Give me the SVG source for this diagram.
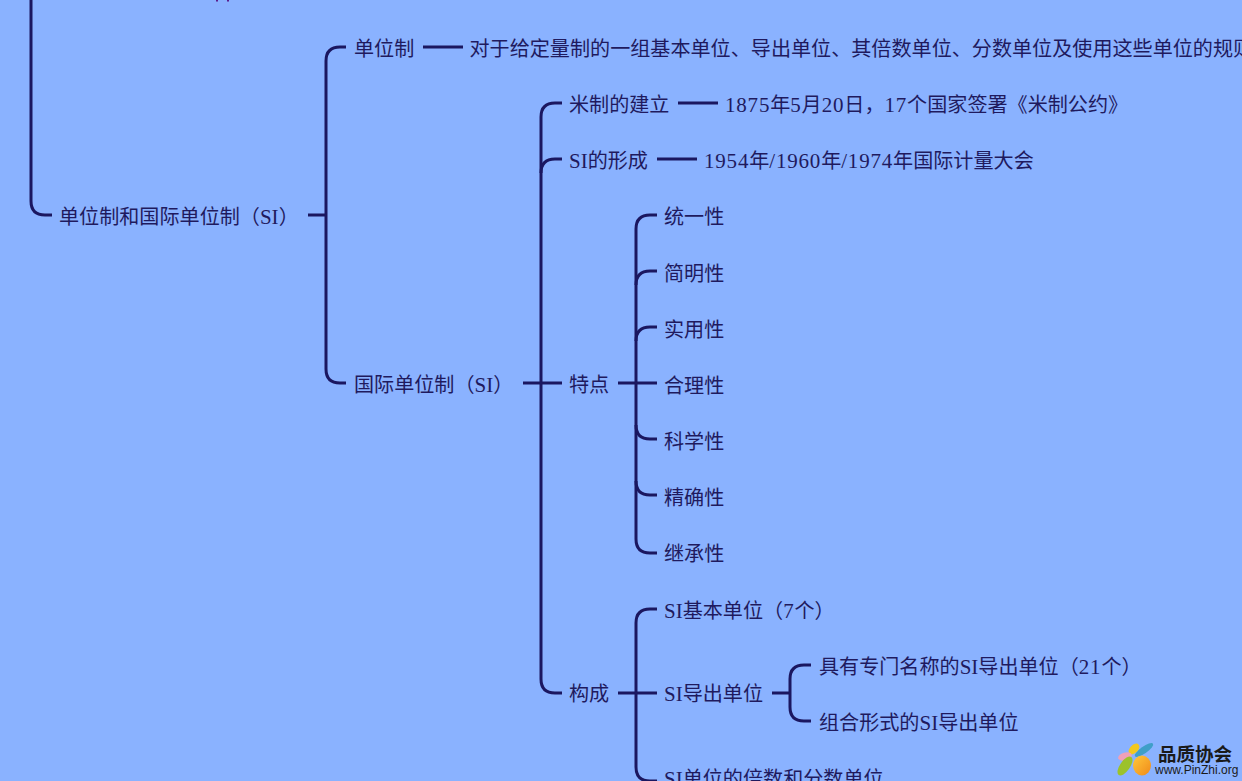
<svg xmlns="http://www.w3.org/2000/svg" width="1242" height="781" viewBox="0 0 1242 781">
<style>
text{font-family:"Liberation Serif","Noto Sans CJK SC",serif;font-size:20.1px;fill:#1f1a5e}
.d{font-size:21px;letter-spacing:.8px}
.s{font-size:21px}
.c{fill:none;stroke:#1b1760;stroke-width:3;stroke-linecap:butt}
</style>
<defs>
<linearGradient id="g1" x1="0" y1="0" x2="1" y2="1"><stop offset="0" stop-color="#ffc83a"/><stop offset="1" stop-color="#f08a1a"/></linearGradient>
</defs>
<rect width="1242" height="781" fill="#8ab2ff"/>
<g id="connectors">
<path class="c" d="M31 0V201Q31 215 45 215H52"/>
<path class="c" d="M308 215H326"/>
<path class="c" d="M346 47H340Q326 47 326 61V369Q326 383 340 383H346"/>
<path class="c" d="M423 47H463"/>
<path class="c" d="M523 383H541"/>
<path class="c" d="M562 103H555Q541 103 541 117V679Q541 693 555 693H562"/>
<path class="c" d="M541 173Q541 159 555 159H562"/>
<path class="c" d="M541 383H562"/>
<path class="c" d="M678 103H718"/>
<path class="c" d="M657 159H697"/>
<path class="c" d="M618 383H636"/>
<path class="c" d="M657 215H650Q636 215 636 229V539Q636 553 650 553H657"/>
<path class="c" d="M636 285Q636 271 650 271H657"/>
<path class="c" d="M636 341Q636 327 650 327H657"/>
<path class="c" d="M636 383H657"/>
<path class="c" d="M636 425Q636 439 650 439H657"/>
<path class="c" d="M636 481Q636 495 650 495H657"/>
<path class="c" d="M618 693H657"/>
<path class="c" d="M657 609H650Q636 609 636 623V767Q636 781 650 781H657"/>
<path class="c" d="M772 693H790"/>
<path class="c" d="M811 665H804Q790 665 790 679V707Q790 721 804 721H811"/>
</g>
<g id="n-top"><rect x="216" y="0" width="2" height="1.5" fill="#5a1a8a"/><rect x="227" y="0" width="2" height="1.5" fill="#5a1a8a"/></g>
<g id="n-root"><text x="59" y="224">单位制和国际单位制（<tspan class="s">SI</tspan>）</text></g>
<g id="n-unit-system"><text x="354" y="56">单位制</text></g>
<g id="n-unit-def"><text x="469.500" y="56">对于给定量制的一组基本单位、导出单位、其倍数单位、分数单位及使用这些单位的规则</text></g>
<g id="n-si"><text x="354" y="392">国际单位制（<tspan class="s">SI</tspan>）</text></g>
<g id="n-metric"><text x="569" y="112">米制的建立</text></g>
<g id="n-metric-d"><text x="725" y="112"><tspan class="d">1875</tspan>年<tspan class="d">5</tspan>月<tspan class="d">20</tspan>日，<tspan class="d">17</tspan>个国家签署《米制公约》</text></g>
<g id="n-form"><text x="569" y="168"><tspan class="s">SI</tspan>的形成</text></g>
<g id="n-form-d"><text x="704" y="168"><tspan class="d">1954</tspan>年<tspan class="d">/1960</tspan>年<tspan class="d">/1974</tspan>年国际计量大会</text></g>
<g id="n-feat"><text x="569" y="392">特点</text></g>
<g id="n-f1"><text x="664" y="224">统一性</text></g>
<g id="n-f2"><text x="664" y="281">简明性</text></g>
<g id="n-f3"><text x="664" y="337">实用性</text></g>
<g id="n-f4"><text x="664" y="393">合理性</text></g>
<g id="n-f5"><text x="664" y="449">科学性</text></g>
<g id="n-f6"><text x="664" y="505">精确性</text></g>
<g id="n-f7"><text x="664" y="561">继承性</text></g>
<g id="n-comp"><text x="569" y="701">构成</text></g>
<g id="n-c1"><text x="664" y="618"><tspan class="s">SI</tspan>基本单位（<tspan class="d">7</tspan>个）</text></g>
<g id="n-c2"><text x="664" y="701"><tspan class="s">SI</tspan>导出单位</text></g>
<g id="n-c21"><text x="819" y="674">具有专门名称的<tspan class="s">SI</tspan>导出单位（<tspan class="d">21</tspan>个）</text></g>
<g id="n-c22"><text x="819" y="730">组合形式的<tspan class="s">SI</tspan>导出单位</text></g>
<g id="n-c3"><text x="664" y="786"><tspan class="s">SI</tspan>单位的倍数和分数单位</text></g>
<g id="logo">
<ellipse cx="1144" cy="750" rx="11" ry="3.500" fill="#3f9fc8" transform="rotate(-35 1144 750)"/>
<ellipse cx="1134" cy="749" rx="6.500" ry="4" fill="#f2c81e" transform="rotate(-45 1134 749)"/>
<ellipse cx="1125" cy="756.500" rx="7" ry="4" fill="#f0a0b8" transform="rotate(-15 1125 756.500)"/>
<ellipse cx="1125" cy="766" rx="11" ry="5" fill="#9cc22a" transform="rotate(-55 1125 766)"/>
<ellipse cx="1142" cy="765.500" rx="9" ry="10" fill="url(#g1)"/>
<text x="1158" y="761" style="font-family:'Noto Sans CJK SC',sans-serif;font-size:18.500px;font-weight:700;fill:#1a1a1a">品质协会</text>
<text x="1155" y="773.500" style="font-family:'Liberation Sans',sans-serif;font-size:12px;fill:#1a1a1a">www.PinZhi.org</text>
</g>
</svg>
